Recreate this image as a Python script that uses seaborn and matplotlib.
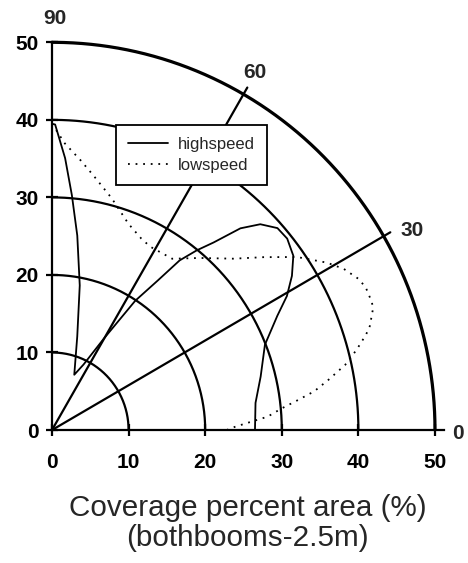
import numpy as np
import pandas as pd
import matplotlib
matplotlib.use("Agg")
import matplotlib.pyplot as plt
import seaborn as sns

# ---- data (polar: angle in degrees, radius = coverage %) ----
hs_angle = [0, 7.5, 14.2, 21.6, 26.6, 29.4, 32.4, 35.5, 38.8, 41.5, 44.3, 46.6,
            48.9, 50.8, 52.7, 54.4, 56.9, 60.2, 64.0, 67.8, 74.7, 79.0, 82.5,
            85.1, 87.2, 89.4, 90]
hs_radius = [26.5, 26.8, 28.1, 29.9, 32.9, 35.2, 37.1, 38.7, 39.4, 39.3, 38.0,
             35.8, 32.1, 29.9, 27.5, 23.7, 19.9, 13.5, 9.4, 7.7, 12.5, 19.0,
             25.3, 30.4, 35.1, 39.4, 39.5]
ls_angle = [0, 1.0, 2.4, 3.5, 5.3, 6.9, 8.3, 10.2, 12.4, 14.6, 16.7, 17.9, 20.4,
            21.5, 24.2, 26.0, 28.6, 31.0, 34.9, 38.9, 43.0, 49.0, 54.6, 61.5,
            64.7, 69.4, 75.4, 80.7, 83.9, 87.4, 90]
ls_radius = [22.8, 23.9, 26.1, 28.2, 30.1, 32.4, 34.6, 36.7, 39.2, 41.1, 42.8,
             43.6, 44.7, 44.9, 44.9, 44.5, 43.4, 41.9, 39.0, 35.5, 32.4, 29.4,
             27.1, 26.9, 27.3, 28.4, 30.9, 33.3, 35.0, 37.0, 39.5]
ring_radii = [10, 20, 30, 40, 50]
spoke_angles = [30, 60]
angle_labels = ["90", "60", "30", "0"]
tick_values = [0, 10, 20, 30, 40, 50]
series_names = ["highspeed", "lowspeed"]
xlabel_text = "Coverage percent area (%)\n(bothbooms-2.5m)"


def to_frame(ang, rad, name):
    a = np.deg2rad(np.asarray(ang, dtype=float))
    r = np.asarray(rad, dtype=float)
    return pd.DataFrame({"x": r * np.cos(a), "y": r * np.sin(a),
                         "series": name, "order": np.arange(len(r))})


df = pd.concat([to_frame(hs_angle, hs_radius, series_names[0]),
                to_frame(ls_angle, ls_radius, series_names[1])],
               ignore_index=True)

sns.set_style("white")
plt.rcParams["font.family"] = ["Liberation Sans", "DejaVu Sans"]

fig = plt.figure(figsize=(4.68, 5.63), dpi=100)
ax = fig.add_axes([0.0947, 0.2224, 0.8675, 0.730])
ax.set_xlim(-1, 52)
ax.set_ylim(-1, 52)

# rings
t = np.linspace(0, np.pi / 2, 200)
for r in ring_radii:
    ax.plot(r * np.cos(t), r * np.sin(t), color="black",
            lw=2.3 if r == 50 else 1.6, zorder=2)
# spokes
for a in spoke_angles:
    ar = np.deg2rad(a)
    ax.plot([0, 51 * np.cos(ar)], [0, 51 * np.sin(ar)], color="black",
            lw=1.6, zorder=2)

sns.lineplot(data=df, x="x", y="y", hue="series", style="series",
             sort=False, estimator=None, units=None,
             palette={series_names[0]: "black", series_names[1]: "black"},
             dashes={series_names[0]: "", series_names[1]: (1, 3.2)},
             linewidth=1.3, ax=ax, legend=True, zorder=3)

# axes lines
for s in ["top", "right"]:
    ax.spines[s].set_visible(False)
ax.spines["left"].set_position(("data", 0))
ax.spines["bottom"].set_position(("data", 0))
ax.spines["left"].set_bounds(0, 50)
ax.spines["bottom"].set_bounds(0, 51.2)
for s in ["left", "bottom"]:
    ax.spines[s].set_linewidth(1.6)
    ax.spines[s].set_color("black")

ax.set_xticks(tick_values)
ax.set_yticks(tick_values)
ax.set_xticklabels([str(v) for v in tick_values])
ax.set_yticklabels([str(v) for v in tick_values])
ax.tick_params(axis="both", which="major", bottom=True, left=True,
               direction="inout", length=9, width=1.6,
               labelsize=15, colors="black")
ax.tick_params(axis="x", pad=12)
ax.tick_params(axis="y", pad=5)
for lab in ax.get_xticklabels() + ax.get_yticklabels():
    lab.set_fontweight("bold")

# angle labels
ax.text(0.4, 53.1, angle_labels[0], ha="center", va="center", fontsize=15,
        fontweight="bold", clip_on=False)
ax.text(26.5, 46.1, angle_labels[1], ha="center", va="center", fontsize=15,
        fontweight="bold", clip_on=False)
ax.text(47.0, 25.7, angle_labels[2], ha="center", va="center", fontsize=15,
        fontweight="bold", clip_on=False)
ax.text(53.0, -0.45, angle_labels[3], ha="center", va="center", fontsize=15,
        fontweight="bold", clip_on=False)

ax.set_xlabel(xlabel_text, fontsize=21.3, labelpad=16, linespacing=1.1)
ax.set_ylabel("")

leg = ax.legend(loc="upper left", bbox_to_anchor=(0.177, 0.761),
                borderaxespad=0, frameon=True, fancybox=False, framealpha=1,
                edgecolor="black", fontsize=12, handlelength=2.4,
                handletextpad=0.6, borderpad=0.7, labelspacing=0.38, title=None)
leg.get_frame().set_linewidth(1.3)
leg.set_zorder(5)

fig.savefig("out.png", dpi=100, facecolor="white")
